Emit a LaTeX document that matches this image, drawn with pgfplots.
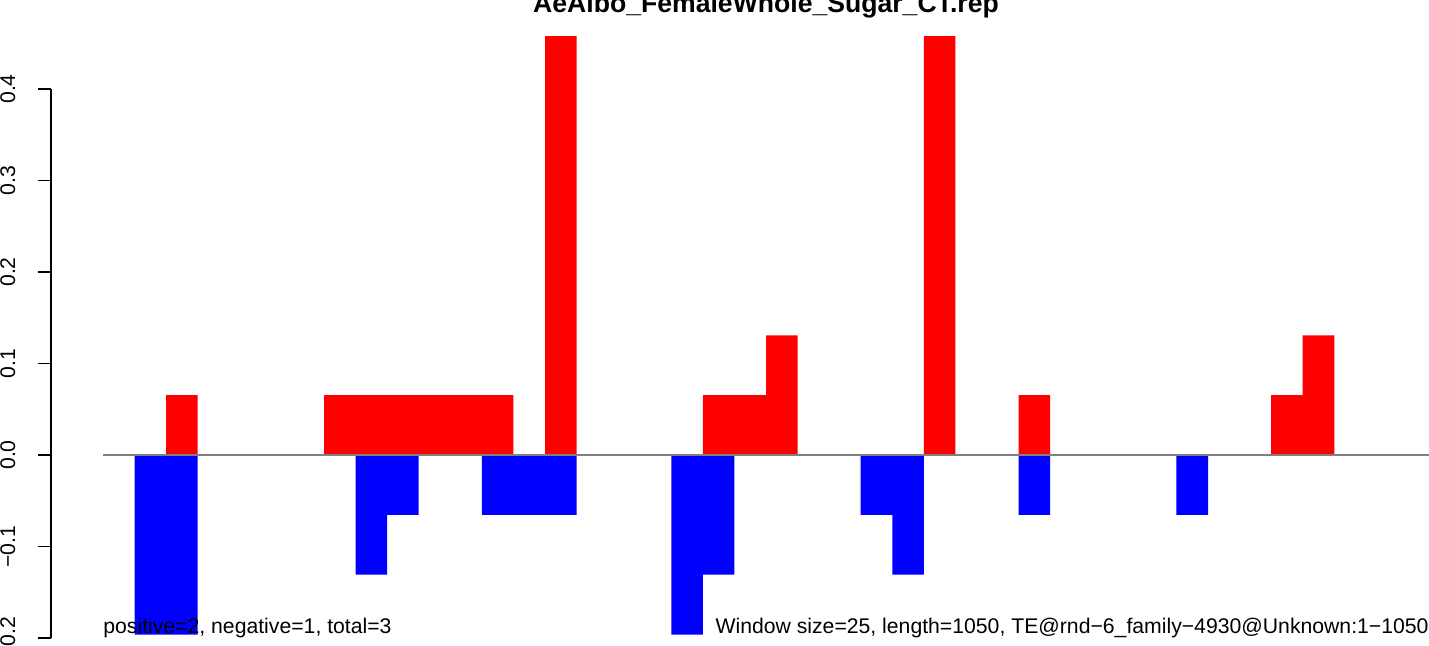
\documentclass[border=0pt]{standalone}
\usepackage{fontspec}
\setmainfont{Liberation Sans}
\usepackage{pgfplots}
\pgfplotsset{compat=1.18}
\usepackage{pgfplotstable}
\definecolor{rred}{RGB}{255,0,0}
\definecolor{rblue}{RGB}{0,0,255}
\definecolor{rgray}{RGB}{128,128,128}

\pgfplotstableread{
x red blue
0 0 0
25 0 -0.1962
50 0.0654 -0.1962
75 0 0
100 0 0
125 0 0
150 0 0
175 0.0654 0
200 0.0654 -0.1308
225 0.0654 -0.0654
250 0.0654 0
275 0.0654 0
300 0.0654 -0.0654
325 0 -0.0654
350 0.4578 -0.0654
375 0 0
400 0 0
425 0 0
450 0 -0.1962
475 0.0654 -0.1308
500 0.0654 0
525 0.1308 0
550 0 0
575 0 0
600 0 -0.0654
625 0 -0.1308
650 0.4578 0
675 0 0
700 0 0
725 0.0654 -0.0654
750 0 0
775 0 0
800 0 0
825 0 0
850 0 -0.0654
875 0 0
900 0 0
925 0.0654 0
950 0.1308 0
975 0 0
1000 0 0
1025 0 0
1050 0 0
}\bars

\begin{document}
\begin{tikzpicture}
\begin{axis}[
  at={(0,0)}, anchor=south west,
  scale only axis, width=689pt, height=323pt,
  xmin=-41.18, xmax=1050, ymin=-0.2087, ymax=0.4973,
  axis line style={draw=none},
  xtick=\empty,
  ytick={-0.2,-0.1,0,0.1,0.2,0.3,0.4},
  yticklabels={−0.2,−0.1,0.0,0.1,0.2,0.3,0.4},
  ytick pos=left, tick align=outside, major tick length=6.5pt,
  tick style={black, line width=0.65pt},
  yticklabel style={xshift=-11.5pt, rotate=90, anchor=base, inner sep=0pt, font=\fontsize{10.6}{12}\selectfont},
  clip=false,
]
\addplot[ybar interval, fill=rred, draw=none] table[x=x,y=red]{\bars};
\addplot[ybar interval, fill=rblue, draw=none] table[x=x,y=blue]{\bars};
\draw[rgray, line width=0.6pt] (axis cs:0,0) -- (axis cs:1050,0);
\draw[black, line width=0.65pt] (axis cs:-41.18,-0.2) -- (axis cs:-41.18,0.4);
\node[anchor=base west, inner sep=0pt, font=\fontsize{10.6}{12}\selectfont] at (axis cs:0,-0.1945) {positive=2, negative=1, total=3};
\node[anchor=base east, inner sep=0pt, font=\fontsize{10.6}{12}\selectfont] at (axis cs:1050,-0.1945) {Window size=25, length=1050, TE@rnd−6\_family−4930@Unknown:1−1050};
\node[anchor=base, inner sep=0pt, font=\bfseries\fontsize{13.3}{15}\selectfont] at (axis cs:525,0.4836) {AeAlbo\_FemaleWhole\_Sugar\_CT.rep};
\end{axis}
\pgfresetboundingbox
\path (-25.5pt,0) rectangle (689pt,323pt);
\end{tikzpicture}
\end{document}
